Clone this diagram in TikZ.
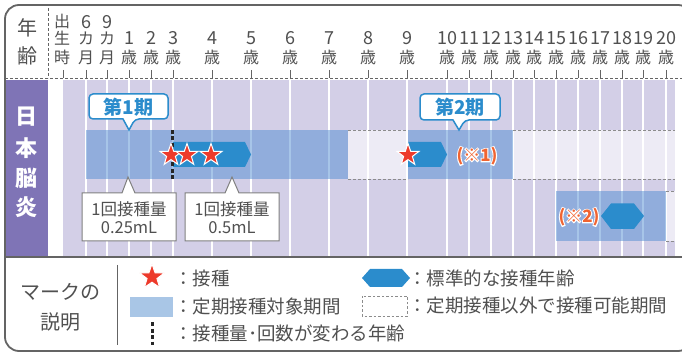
\documentclass[tikz,border=0pt]{standalone}
\usepackage{fontspec}
\setmainfont{Noto Sans CJK JP}
\usetikzlibrary{shapes.geometric}
\definecolor{lav}{RGB}{211,207,231}
\definecolor{purp}{RGB}{127,116,182}
\definecolor{bandblue}{RGB}{80,140,210}
\definecolor{arrowblue}{RGB}{43,140,204}
\definecolor{starred}{RGB}{237,58,43}
\definecolor{noteorange}{RGB}{240,100,50}
\definecolor{txtgray}{RGB}{80,80,80}
\definecolor{linegray}{RGB}{100,100,100}
\definecolor{dashgray}{RGB}{140,140,140}
\definecolor{legblue}{RGB}{169,198,230}
\newcommand\fsz[1]{\fontsize{#1}{#1}\selectfont}
\begin{document}
\begin{tikzpicture}[x=1pt,y=-1pt,
  hdr/.style={font=\fsz{16}, text=txtgray, inner sep=0, anchor=base},
  hdrnum/.style={font=\fsz{18}, text=txtgray, inner sep=0, anchor=base},
  stari/.style={star, star points=5, star point ratio=2.5, fill=starred, draw=white, line width=1, minimum size=23, inner sep=0},
  hexa/.style={fill=arrowblue},
  band/.style={fill=bandblue, fill opacity=0.5},
  optreg/.style={fill=white, fill opacity=0.6},
  optline/.style={draw=dashgray, line width=0.9, dash pattern=on 3pt off 2pt},
  bcallout/.style={fill=white, draw=arrowblue, line width=1.5},
  gcallout/.style={fill=white, draw=gray, line width=1},
  btxt/.style={font=\bfseries\fsz{19}, text=arrowblue, inner sep=0},
  dtxt/.style={font=\fsz{16.5}, text=txtgray, align=center, inner sep=0},
  legtxt/.style={font=\fsz{18.5}, text=txtgray, inner sep=0, anchor=west},
  chg/.style={draw=black!85, line width=2.7, dash pattern=on 4pt off 2.5pt},
  notetxt/.style={font=\bfseries\fsz{17}, inner sep=0},
  notehalo/.style={font=\bfseries\fsz{17}\addfontfeatures{FakeBold=12}, text=white, inner sep=0},
  vlab/.style={font=\bfseries\fsz{22}, text=white, inner sep=0}
]
\useasboundingbox (0,0) rectangle (682,352);
\clip (0,0) rectangle (682,352);

% grid
\fill[lav] (63,80) rectangle (675,256);
\foreach \x in {86,107,129,151,173,212,251,290,329,368,407,447,469,491,513,534,556,578,600,622,643,666}
  \fill[white] (\x-1.3,80) rectangle (\x+1.3,256);
\fill[purp] (5,80) rectangle (48,256);

% header
\draw[linegray, line width=0.9, dash pattern=on 3pt off 2pt] (5,78) -- (682,78);
\draw[linegray, line width=0.9, dash pattern=on 3pt off 2pt] (48,8) -- (48,78);
\foreach \x in {63,86,107,129,151,173,212,251,290,329,368,407,447,469,491,513,534,556,578,600,622,643,666}
  \draw[linegray, line width=0.9] (\x,70) -- (\x,78);
\node[font=\fsz{20}, text=txtgray, inner sep=0] (nen) at (27,28) {年};
\node[font=\fsz{20}, text=txtgray, inner sep=0] (rei) at (27,56) {齢};
\node[hdr] (b1) at (62,28) {出};
\node[hdr] (b2) at (62,45) {生};
\node[hdr] (b3) at (62,64) {時};
\node[hdrnum] (m6a) at (86,29) {6};
\node[hdr] (m6b) at (86,45) {カ};
\node[hdr] (m6c) at (86,64) {月};
\node[hdrnum] (m9a) at (107,29) {9};
\node[hdr] (m9b) at (107,45) {カ};
\node[hdr] (m9c) at (107,64) {月};
\foreach \x/\a in {129/1,151/2,173/3,212/4,251/5,290/6,329/7,368/8,407/9,447/10,469/11,491/12,513/13,534/14,556/15,578/16,600/17,622/18,643/19,666/20}{
  \node[hdrnum] (age\a) at (\x,45) {\a};
  \node[hdr] (sai\a) at (\x,64) {歳};
}

% vertical label
\node[vlab] (v1) at (26,117) {日};
\node[vlab] (v2) at (26,148) {本};
\node[vlab] (v3) at (26,178) {脳};
\node[vlab] (v4) at (26,207) {炎};

% row 1
\fill[optreg] (348,130) rectangle (408,179);
\fill[optreg] (513,130) rectangle (675,179);
\draw[optline] (348,130) -- (408,130) (348,179) -- (408,179);
\draw[optline] (513,130) -- (675,130) (513,179) -- (675,179);
\fill[band] (86,130) rectangle (348,179);
\fill[band] (408,130) rectangle (513,179);
\fill[hexa] (173,142) -- (245,142) -- (251,154.5) -- (245,167) -- (173,167) -- cycle;
\fill[hexa] (408,142) -- (441,142) -- (447,154.5) -- (441,167) -- (408,167) -- cycle;
\draw[chg] (172.5,130) -- (172.5,180);
\node[stari] (s1) at (171,155) {};
\node[stari] (s2) at (187,155) {};
\node[stari] (s3) at (211,155) {};
\node[stari] (s4) at (408,155) {};
\node[notehalo] (h1) at (477,156) {(※1)};
\node[notetxt, text=noteorange] (n1) at (477,156) {(※1)};

% row 2
\fill[optreg] (666,191) rectangle (675,241);
\draw[optline] (666,191) -- (675,191) (666,241) -- (675,241);
\fill[band] (556,191) rectangle (666,241);
\fill[hexa] (601,216) -- (611,203.5) -- (634,203.5) -- (644,216) -- (634,229) -- (611,229) -- cycle;
\node[notehalo] (h2) at (579,217) {(※2)};
\node[notetxt, text=noteorange] (n2) at (579,217) {(※2)};

% callouts
\path[bcallout, rounded corners=4] (123,119) -- (89,119) -- (89,94) -- (168,94) -- (168,119) -- (135,119) [sharp corners] -- (129,130) -- cycle;
\node[btxt] (p1) at (128.5,107) {第1期};
\path[bcallout, rounded corners=4] (453,120) -- (420,120) -- (420,94) -- (500,94) -- (500,120) -- (465,120) [sharp corners] -- (459,130) -- cycle;
\node[btxt] (p2) at (460,107) {第2期};

\path[gcallout] (122,193) -- (82,193) -- (82,241) -- (176,241) -- (176,193) -- (135,193) -- (128,177) -- cycle;
\node[dtxt] (d1) at (129,217.5) {1回接種量\\[2pt]0.25mL};
\path[gcallout] (225,193) -- (185,193) -- (185,241) -- (279,241) -- (279,193) -- (239,193) -- (232,177) -- cycle;
\node[dtxt] (d2) at (232,217.5) {1回接種量\\[2pt]0.5mL};

% frame
\draw[linegray, line width=2] (5,257) -- (682,257);
\draw[linegray, line width=1.8, rounded corners=14] (5,5) rectangle (692,351);

% legend
\node[font=\fsz{20}, text=txtgray, inner sep=0] (mk1) at (60,292) {マークの};
\node[font=\fsz{20}, text=txtgray, inner sep=0] (mk2) at (60,322) {説明};
\draw[linegray, line width=1] (117,265) -- (117,345);
\node[stari, minimum size=26] (ls) at (152,277) {};
\fill[legblue] (130,297) rectangle (173,317);
\draw[chg, line width=3] (152,322) -- (152,345);
\node[legtxt] (l1) at (174,278) {：接種};
\node[legtxt] (l2) at (174,306) {：定期接種対象期間};
\node[legtxt] (l3) at (174,333) {：接種量･回数が変わる年齢};
\fill[hexa] (362,278) -- (370,269) -- (402,269) -- (410,278) -- (402,287) -- (370,287) -- cycle;
\draw[dashgray, line width=0.9, dash pattern=on 2.5pt off 2pt] (362,296) rectangle (407,316);
\node[legtxt] (l4) at (408,278) {：標準的な接種年齢};
\node[legtxt] (l5) at (408,306) {：定期接種以外で接種可能期間};
\end{tikzpicture}
\end{document}
